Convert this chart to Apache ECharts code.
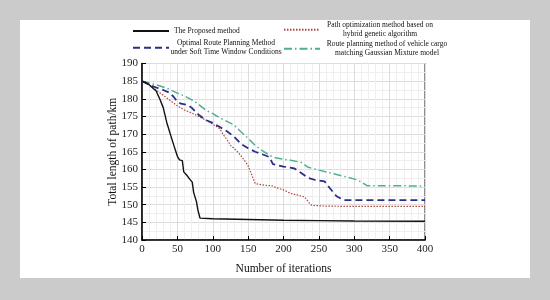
<!DOCTYPE html>
<html>
<head>
<meta charset="utf-8">
<script src="https://cdn.jsdelivr.net/npm/echarts@6/dist/echarts.min.js"></script>
<style>html,body{margin:0;padding:0;background:#cbcbcb;}#c{width:550px;height:300px;}</style>
</head>
<body>
<div id="c"></div>
<script>
// ---- data ----
var seriesNames = [
  'The Proposed method',
  'Path optimization method based on\nhybrid genetic algorithm',
  'Optimal Route Planning Method\nunder Soft Time Window Conditions',
  'Route planning method of vehicle cargo\nmatching Gaussian Mixture model'
];
var proposedX = [0, 5, 10, 20, 25, 30, 35, 40, 45, 50, 53, 57, 59, 63, 68, 71, 73, 77, 79, 82, 100, 150, 200, 250, 300, 400];
var proposedY = [185, 184.6, 184, 182.2, 180, 177.5, 173.3, 170, 166.8, 163.7, 162.7, 162.5, 159.3, 158.4, 157.1, 156.4, 153.5, 150.8, 148.5, 146.2, 146, 145.8, 145.6, 145.5, 145.4, 145.3];
var geneticX = [0, 10, 20, 30, 40, 50, 60, 70, 80, 90, 100, 110, 115, 120, 125, 130, 135, 140, 145, 150, 155, 160, 170, 180, 185, 190, 200, 210, 220, 230, 235, 240, 260, 300, 400];
var geneticY = [185, 184, 182.5, 181, 179.5, 178, 176.8, 176, 175, 174, 172.8, 171.5, 169.8, 168.5, 166.8, 166, 165, 163.8, 162.5, 161, 158.5, 156, 155.6, 155.4, 155.3, 154.8, 154.2, 153.2, 152.7, 152.2, 150.8, 149.8, 149.6, 149.5, 149.5];
var softWindowX = [0, 10, 20, 30, 40, 45, 50, 55, 65, 70, 80, 90, 100, 110, 120, 130, 140, 150, 160, 170, 180, 185, 200, 215, 225, 235, 245, 258, 265, 275, 285, 400];
var softWindowY = [185, 184, 183.2, 182.5, 181.6, 180.5, 179.2, 178.6, 178.2, 177.5, 175.5, 174, 173.2, 172, 170.8, 169.3, 167.2, 166, 165, 164.3, 163.5, 161.5, 160.8, 160.3, 159, 157.6, 157, 156.6, 154.8, 152.4, 151.3, 151.3];
var gaussianX = [0, 20, 35, 50, 60, 75, 90, 100, 110, 120, 130, 140, 150, 160, 170, 180, 190, 210, 225, 235, 250, 270, 290, 305, 318, 400];
var gaussianY = [185, 184, 183, 181.6, 180.8, 179.2, 176.8, 175.8, 174.6, 173.6, 172.6, 170.6, 168.8, 166.8, 165.3, 164, 163.2, 162.6, 162, 160.6, 159.8, 158.8, 157.8, 157, 155.4, 155.3];
var xTicks = {min: 0, max: 400, interval: 50};
var yTicks = {min: 140, max: 190, interval: 5};
var xTitle = 'Number of iterations';
var yTitle = 'Total length of path/km';

function pairs(xs, ys) { return xs.map(function (x, i) { return [x, ys[i]]; }); }

var FONT = "'Liberation Serif', 'Times New Roman', serif";
var chart = echarts.init(document.getElementById('c'), null, {renderer: 'canvas'});

function legendFor(name, left, top, width) {
  var rich = {c: {fontFamily: FONT, fontSize: 7.5, color: '#111', lineHeight: 9.5}};
  if (width) { rich.c.width = width; rich.c.align = 'center'; }
  return {
    data: [name],
    left: left, top: top,
    orient: 'horizontal',
    itemWidth: 36, itemHeight: 10, padding: 0,
    selectedMode: false,
    itemStyle: {opacity: 0},
    formatter: function (n) {
      return n.split('\n').map(function (s) { return '{c|' + s + '}'; }).join('\n');
    },
    textStyle: {fontFamily: FONT, fontSize: 7.5, color: '#111', rich: rich}
  };
}

var option = {
  backgroundColor: '#cbcbcb',
  animation: false,
  graphic: [{type: 'rect', left: 20, top: 20, shape: {width: 510, height: 258}, style: {fill: '#ffffff'}, z: -10}],
  legend: [
    legendFor(seriesNames[0], 132, 27, 0),
    legendFor(seriesNames[1], 283, 21, 110),
    legendFor(seriesNames[2], 132, 39, 104),
    legendFor(seriesNames[3], 283, 40, 124)
  ],
  grid: {left: 142, top: 63.5, right: 125, bottom: 60, show: true, borderColor: '#444', borderWidth: 1.2, backgroundColor: 'transparent'},
  xAxis: {
    type: 'value', min: xTicks.min, max: xTicks.max, interval: xTicks.interval,
    name: xTitle, nameLocation: 'middle', nameGap: 23, nameMoveOverlap: false,
    nameTextStyle: {fontFamily: FONT, fontSize: 11.5, color: '#111'},
    axisLine: {show: true, onZero: false, lineStyle: {color: '#000', width: 1.5}},
    axisTick: {show: true, inside: true, length: 4, lineStyle: {color: '#000'}},
    axisLabel: {fontFamily: FONT, fontSize: 11, color: '#222', margin: 4},
    splitLine: {show: true, lineStyle: {color: '#dcdcdc', width: 1}},
    minorTick: {show: false, splitNumber: 5},
    minorSplitLine: {show: true, lineStyle: {color: '#efefef', width: 1}}
  },
  yAxis: {
    type: 'value', min: yTicks.min, max: yTicks.max, interval: yTicks.interval,
    name: yTitle, nameLocation: 'middle', nameGap: 23, nameMoveOverlap: false,
    nameTextStyle: {fontFamily: FONT, fontSize: 11.5, color: '#111'},
    axisLine: {show: true, onZero: false, lineStyle: {color: '#000', width: 1.5}},
    axisTick: {show: true, inside: true, length: 4, lineStyle: {color: '#000'}},
    axisLabel: {fontFamily: FONT, fontSize: 11, color: '#222', margin: 4},
    splitLine: {show: true, lineStyle: {color: '#dcdcdc', width: 1}},
    minorTick: {show: false, splitNumber: 2},
    minorSplitLine: {show: true, lineStyle: {color: '#efefef', width: 1}}
  },
  series: [
    {name: seriesNames[0], type: 'line', data: pairs(proposedX, proposedY), symbol: 'none', z: 5,
     lineStyle: {color: '#111', width: 1.4}, itemStyle: {color: '#111'}},
    {name: seriesNames[1], type: 'line', data: pairs(geneticX, geneticY), symbol: 'none', z: 4,
     lineStyle: {color: '#b0473f', width: 1.2, type: [1.5, 1.5]}, itemStyle: {color: '#b0473f'}},
    {name: seriesNames[2], type: 'line', data: pairs(softWindowX, softWindowY), symbol: 'none', z: 4,
     lineStyle: {color: '#2a2f86', width: 1.8, type: [7, 4]}, itemStyle: {color: '#2a2f86'}},
    {name: seriesNames[3], type: 'line', data: pairs(gaussianX, gaussianY), symbol: 'none', z: 3,
     lineStyle: {color: '#4fae96', width: 1.5, type: [8, 3, 1.5, 3]}, itemStyle: {color: '#4fae96'}}
  ]
};
chart.setOption(option);
</script>
</body>
</html>
